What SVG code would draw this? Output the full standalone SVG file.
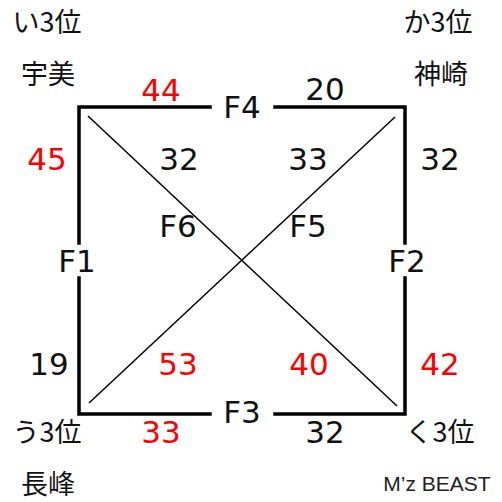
<svg xmlns="http://www.w3.org/2000/svg" width="502" height="502" viewBox="0 0 502 502">
<style>
.edge{stroke:#000;stroke-width:3.5;fill:none;stroke-linecap:square}
.diag{stroke:#000;stroke-width:1.5;fill:none}
.num{font-family:"DejaVu Sans","Liberation Sans",sans-serif;font-size:31px;text-anchor:middle;fill:#111}
.red{fill:#ff0000}
.jp{font-family:"Noto Sans CJK JP","Noto Sans CJK SC",sans-serif;font-size:27px;text-anchor:middle;fill:#111}
.sig{font-family:"Liberation Sans",sans-serif;font-size:21px;text-anchor:middle;fill:#222}
</style>
<rect width="502" height="502" fill="#fff"/>
<g id="connectors">
<polyline class="edge" points="210,107 79,107 79,243"/>
<polyline class="edge" points="275,107 405,107 405,243"/>
<polyline class="edge" points="79,278 79,414 210,414"/>
<polyline class="edge" points="405,278 405,414 275,414"/>
<line class="diag" x1="88" y1="116" x2="397" y2="406"/>
<line class="diag" x1="395" y1="117" x2="89" y2="403"/>
</g>
<g id="node-i"><text class="jp" x="47" y="32">い3位</text><text class="jp" x="48" y="84">宇美</text></g>
<g id="node-ka"><text class="jp" x="438" y="32">か3位</text><text class="jp" x="441" y="84">神崎</text></g>
<g id="node-u"><text class="jp" x="47" y="442">う3位</text><text class="jp" x="48" y="494">長峰</text></g>
<g id="node-ku"><text class="jp" x="440" y="442">く3位</text></g>
<g id="F4"><text class="num" x="242" y="118">F4</text><text class="num red" x="161" y="101">44</text><text class="num" x="325" y="100">20</text></g>
<g id="F1"><text class="num" x="77" y="272">F1</text><text class="num red" x="47" y="170">45</text><text class="num" x="49" y="375">19</text></g>
<g id="F2"><text class="num" x="407" y="272">F2</text><text class="num" x="440" y="170">32</text><text class="num red" x="440" y="375">42</text></g>
<g id="F3"><text class="num" x="242" y="423">F3</text><text class="num red" x="161" y="443">33</text><text class="num" x="325" y="443">32</text></g>
<g id="F6"><text class="num" x="178" y="237">F6</text><text class="num" x="179" y="170">32</text><text class="num red" x="309" y="375">40</text></g>
<g id="F5"><text class="num" x="308" y="237">F5</text><text class="num" x="308" y="170">33</text><text class="num red" x="178" y="375">53</text></g>
<text class="sig" x="437" y="491">M’z BEAST</text>
</svg>
